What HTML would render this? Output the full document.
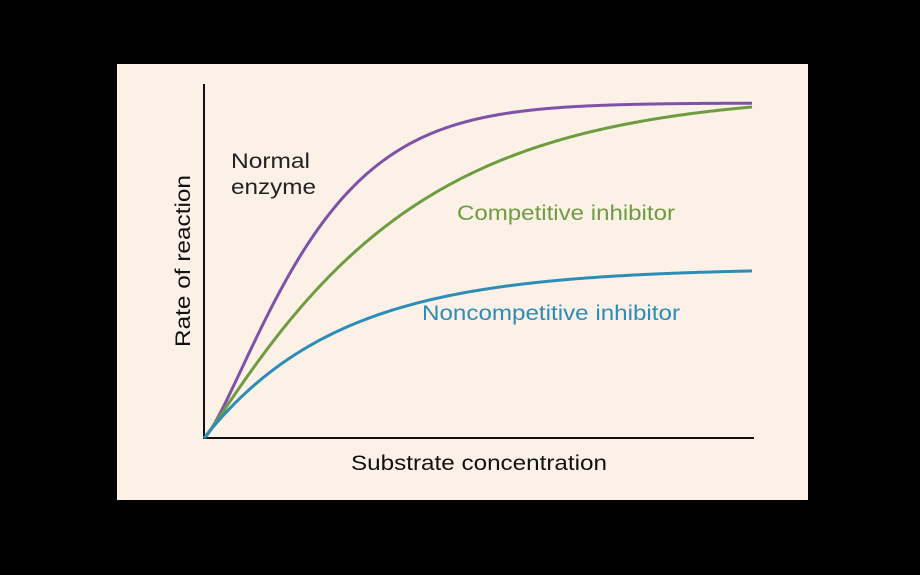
<!DOCTYPE html>
<html><head><style>
html,body{margin:0;padding:0;background:#000;}
</style></head><body>
<svg width="920" height="575" viewBox="0 0 920 575" xmlns="http://www.w3.org/2000/svg" style="display:block">
<rect x="0" y="0" width="920" height="575" fill="#000"/>
<rect x="117" y="64" width="691" height="436" fill="#fbf1e6"/>
<line x1="204" y1="84" x2="204" y2="439" stroke="#111" stroke-width="2"/>
<line x1="203" y1="438" x2="754" y2="438" stroke="#111" stroke-width="2"/>
<path id="pp" d="" fill="none" stroke="#7d52a8" stroke-width="3" stroke-linejoin="round"/>
<path id="pg" d="" fill="none" stroke="#6f9c40" stroke-width="3" stroke-linejoin="round"/>
<path id="pb" d="" fill="none" stroke="#2e8cb8" stroke-width="3" stroke-linejoin="round"/>
<g font-family="Liberation Sans, sans-serif" font-size="21">
<text x="231" y="168" fill="#222" textLength="79" lengthAdjust="spacingAndGlyphs">Normal</text>
<text x="231" y="194" fill="#222" textLength="85" lengthAdjust="spacingAndGlyphs">enzyme</text>
<text x="457" y="220" fill="#6f9c40" textLength="218" lengthAdjust="spacingAndGlyphs">Competitive inhibitor</text>
<text x="422" y="320" fill="#2e8cb8" textLength="258" lengthAdjust="spacingAndGlyphs">Noncompetitive inhibitor</text>
<text x="351" y="470" fill="#111" textLength="256" lengthAdjust="spacingAndGlyphs">Substrate concentration</text>
<text transform="translate(190,261) rotate(-90)" x="-86" fill="#111" textLength="172" lengthAdjust="spacingAndGlyphs">Rate of reaction</text>
</g>
</svg>
<script>
function mk(id,A,k,p){var d="M204,438";for(var x=206;x<=752;x+=2){var t=x-204;var f=1-Math.exp(-Math.pow(t/k,p));d+=" L"+x+","+(438-A*f).toFixed(2);}document.getElementById(id).setAttribute("d",d);}
mk("pp",335,116,1.3);
mk("pg",345,190,1.1);
mk("pb",170,135,1.0);
</script>
</body></html>
